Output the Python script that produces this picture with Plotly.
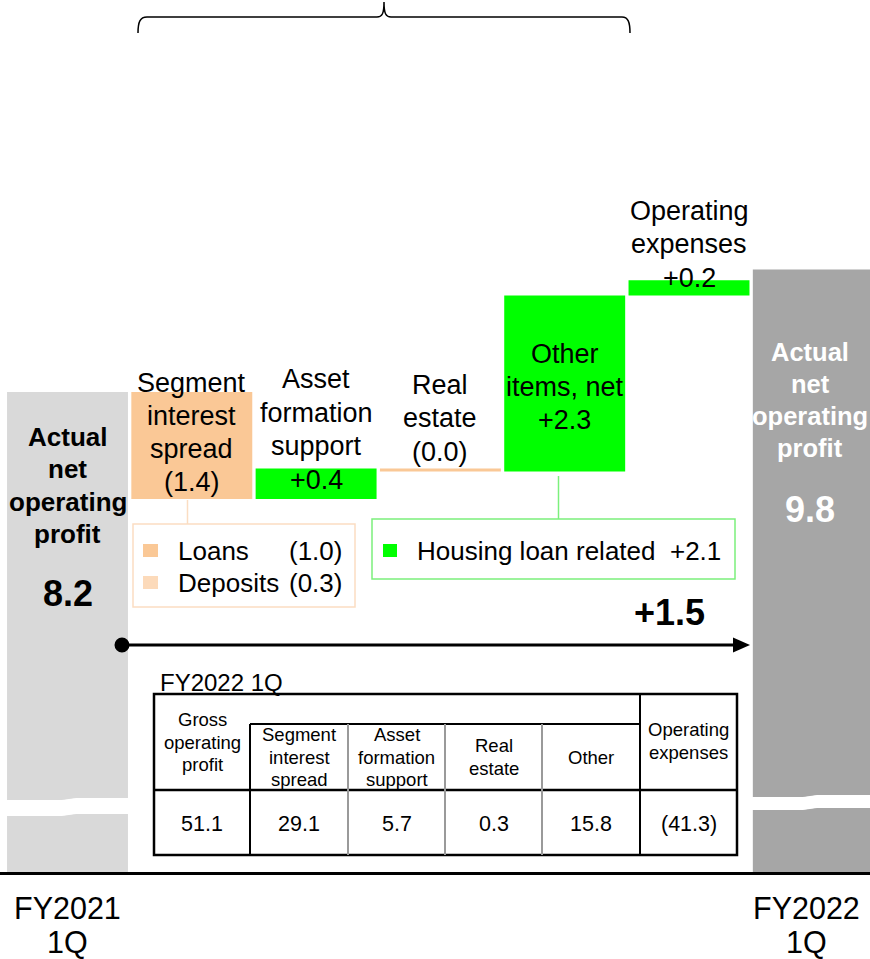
import plotly.graph_objects as go

W, H = 870, 959
FONT = "Liberation Sans, Arial, sans-serif"

# ---------------- data ----------------
categories = ["FY2021 1Q", "Segment interest spread", "Asset formation support",
              "Real estate", "Other items, net", "Operating expenses", "FY2022 1Q"]
total_title = ["Actual", "net", "operating", "profit"]
step_titles = [["Segment", "interest", "spread"],
               ["Asset", "formation", "support"],
               ["Real", "estate"],
               ["Other", "items, net"],
               ["Operating", "expenses"]]
start_value = 8.2
end_value = 9.8
changes = [-1.4, 0.4, -0.04, 2.3, 0.2]
net_change = 1.5
spread_items = ["Loans", "Deposits"]
spread_values = [-1.0, -0.3]
other_item = "Housing loan related"
other_value = 2.1
table_title = "FY2022 1Q"
table_headers = [["Gross", "operating", "profit"], ["Segment", "interest", "spread"],
                 ["Asset", "formation", "support"], ["Real", "estate"], ["Other"],
                 ["Operating", "expenses"]]
table_values = [51.1, 29.1, 5.7, 0.3, 15.8, -41.3]
period_labels = [["FY2021", "1Q"], ["FY2022", "1Q"]]

# ---------------- colours ----------------
GRAY_START = "#D9D9D9"
GRAY_END = "#A6A6A6"
PEACH = "#FAC896"
PEACH_LIGHT = "#FCDABA"
PEACH_LINE = "#FBDDC2"
GREEN = "#00FF00"
GREEN_LINE = "#7CF07C"


def fmt(v):
    return f"+{v:.1f}" if v > 0 else f"({abs(v):.1f})"


# ---------------- bars ----------------
xs = list(range(len(categories)))
bases, heights, colors = [0], [start_value], [GRAY_START]
level = start_value
for c in changes:
    bases.append(level)
    heights.append(c)
    colors.append(PEACH if c < 0 else GREEN)
    level += c
bases.append(0)
heights.append(end_value)
colors.append(GRAY_END)

fig = go.Figure(go.Bar(x=xs, y=heights, base=bases, width=0.973,
                       marker=dict(color=colors, line=dict(width=0)),
                       hoverinfo="skip"))

PX_PER_UNIT = 76.5
Y_TOP_PX = 392  # pixel of start value
y_hi = start_value + Y_TOP_PX / PX_PER_UNIT
y_lo = start_value - (872 - Y_TOP_PX) / PX_PER_UNIT
BAR_STEP = 124.3
x_lo = -67.5 / BAR_STEP
x_hi = (W - 67.5) / BAR_STEP


def px(x):
    return x / W


def py(y):
    return 1 - y / H


def P(x, y):
    return f"{px(x):.5f},{py(y):.5f}"


annotations = []
shapes = []


def text(x, y, s, size, color="black", xanchor="center", xref="paper", xshift=0):
    annotations.append(dict(
        x=(x if xref == "x" else px(x)), y=py(y), xref=xref, yref="paper",
        text=s, showarrow=False, xanchor=xanchor, yanchor="middle",
        xshift=xshift, borderpad=0,
        font=dict(size=size, color=color, family=FONT)))


def rect(x0, y0, x1, y1, fill=None, line=None, lw=1):
    shapes.append(dict(type="rect", xref="paper", yref="paper",
                       x0=px(x0), x1=px(x1), y0=py(y0), y1=py(y1),
                       fillcolor=fill if fill else "rgba(0,0,0,0)",
                       line=dict(color=line if line else "rgba(0,0,0,0)",
                                 width=lw if line else 0)))


def seg(x0, y0, x1, y1, color="black", lw=2):
    shapes.append(dict(type="line", xref="paper", yref="paper",
                       x0=px(x0), x1=px(x1), y0=py(y0), y1=py(y1),
                       line=dict(color=color, width=lw)))


def path(d, fill=None, line=None, lw=1.5):
    shapes.append(dict(type="path", xref="paper", yref="paper", path=d,
                       fillcolor=fill if fill else "rgba(0,0,0,0)",
                       line=dict(color=line if line else "rgba(0,0,0,0)",
                                 width=lw if line else 0)))


# ---------------- axis break waves ----------------
path(f"M{P(7,800)} L{P(58,800)} C{P(68,800)} {P(70,798)} {P(80,798)} L{P(129,798)} "
     f"L{P(129,814)} L{P(80,814)} C{P(70,814)} {P(68,816)} {P(58,816)} L{P(7,816)} Z",
     fill="white")
path(f"M{P(752,797)} L{P(800,797)} C{P(808,797)} {P(812,795)} {P(820,795)} L{P(871,795)} "
     f"L{P(871,808)} L{P(820,808)} C{P(812,808)} {P(808,810)} {P(800,810)} L{P(752,810)} Z",
     fill="white")

# ---------------- bar labels ----------------
for k, t in enumerate(total_title):
    text(0, 437 + k * 32.3, f"<b>{t}</b>", 26, xref="x")
text(0, 593, f"<b>{start_value:.1f}</b>", 36, xref="x")
for k, t in enumerate(total_title):
    text(6, 352 + k * 32, f"<b>{t}</b>", 25.5, color="white", xref="x", xshift=-3)
text(6, 509, f"<b>{end_value:.1f}</b>", 36, color="white", xref="x", xshift=-3)

label_first_y = [383, 379, 385, 354, 211]
label_spacing = [33, 33.5, 33.5, 33, 33.5]
for i, (title, c) in enumerate(zip(step_titles, changes)):
    lines = title + [fmt(c)]
    for k, t in enumerate(lines):
        text(i + 1, label_first_y[i] + k * label_spacing[i], t, 27, xref="x")

# ---------------- breakdown boxes ----------------
rect(133, 524, 355, 607, line=PEACH_LINE, lw=1.5)
seg(187.5, 500, 187.5, 524, color=PEACH_LINE, lw=1.5)
sq_colors = [PEACH, PEACH_LIGHT]
for k, (name, v) in enumerate(zip(spread_items, spread_values)):
    yc = 551 + k * 32
    rect(143, yc - 7, 158, yc + 6, fill=sq_colors[k])
    text(177, yc, name, 26, xanchor="left")
    text(343, yc, fmt(v), 26, xanchor="right")

rect(372, 519, 735, 579, line=GREEN_LINE, lw=1.5)
seg(558.5, 476, 558.5, 519, color=GREEN_LINE, lw=1.5)
rect(383, 544, 397, 557, fill=GREEN)
text(416, 551, f"{other_item}  {fmt(other_value)}", 26, xanchor="left")

# ---------------- net change arrow ----------------
seg(122, 645, 737, 645, lw=3)
path(f"M{P(733,637.5)} L{P(750,645)} L{P(733,652.5)} Z", fill="black")
shapes.append(dict(type="circle", xref="paper", yref="paper",
                   x0=px(114.5), x1=px(129.5), y0=py(637.5), y1=py(652.5),
                   fillcolor="black", line=dict(width=0)))
text(669, 612, f"<b>{fmt(net_change)}</b>", 36)

# ---------------- table ----------------
text(159, 682, table_title, 24, xanchor="left")
col_x = [154, 250, 348, 445, 542, 640, 737]
T_TOP, T_SUB, T_MID, T_BOT = 694, 724, 790, 855
rect(154, T_TOP, 737, T_BOT, line="black", lw=2.5)
seg(250, T_SUB, 640, T_SUB, lw=2)
seg(154, T_MID, 737, T_MID, lw=2.5)
seg(250, T_SUB, 250, T_BOT, lw=2)
seg(640, T_TOP, 640, T_BOT, lw=2)
for xv in col_x[2:5]:
    seg(xv, T_SUB, xv, T_BOT, color="#9A9A9A", lw=2)
header_center_y = [742, 757, 757, 757, 757, 741]
HDR_SP = 22.5
for k, (hd, v) in enumerate(zip(table_headers, table_values)):
    xc = (col_x[k] + col_x[k + 1]) / 2
    y0 = header_center_y[k] - (len(hd) - 1) * HDR_SP / 2
    for j, ln in enumerate(hd):
        text(xc, y0 + j * HDR_SP, ln, 18.5)
    text(xc, 824, fmt(v) if v < 0 else f"{v:.1f}", 21.5)

# ---------------- top brace ----------------
path(f"M{P(138,33)} C{P(138,22)} {P(140,17)} {P(147,17)} L{P(377,17)} "
     f"C{P(382,17)} {P(384,14)} {P(384,2)} C{P(384,14)} {P(386,17)} {P(391,17)} "
     f"L{P(622,17)} C{P(628,17)} {P(630,22)} {P(630,33)}",
     line="black", lw=1.5)

# ---------------- period labels ----------------
period_x = [67, 806]
for (l1, l2), xc in zip(period_labels, period_x):
    text(xc, 908, l1, 30.5)
    text(xc, 942, l2, 30.5)

fig.update_layout(
    width=W, height=H, margin=dict(l=0, r=0, t=0, b=0),
    paper_bgcolor="white", plot_bgcolor="white", showlegend=False,
    xaxis=dict(range=[x_lo, x_hi], showticklabels=False, showgrid=False,
               zeroline=False, showline=True, linecolor="black", linewidth=3,
               ticks="", fixedrange=True),
    yaxis=dict(range=[y_lo, y_hi], domain=[87 / H, 1], visible=False,
               showgrid=False, zeroline=False, fixedrange=True),
    annotations=annotations, shapes=shapes,
)

fig.write_html("out.html", config={"displayModeBar": False},
               post_script="document.body.style.margin='0';"
                           "document.body.style.overflow='hidden';")
